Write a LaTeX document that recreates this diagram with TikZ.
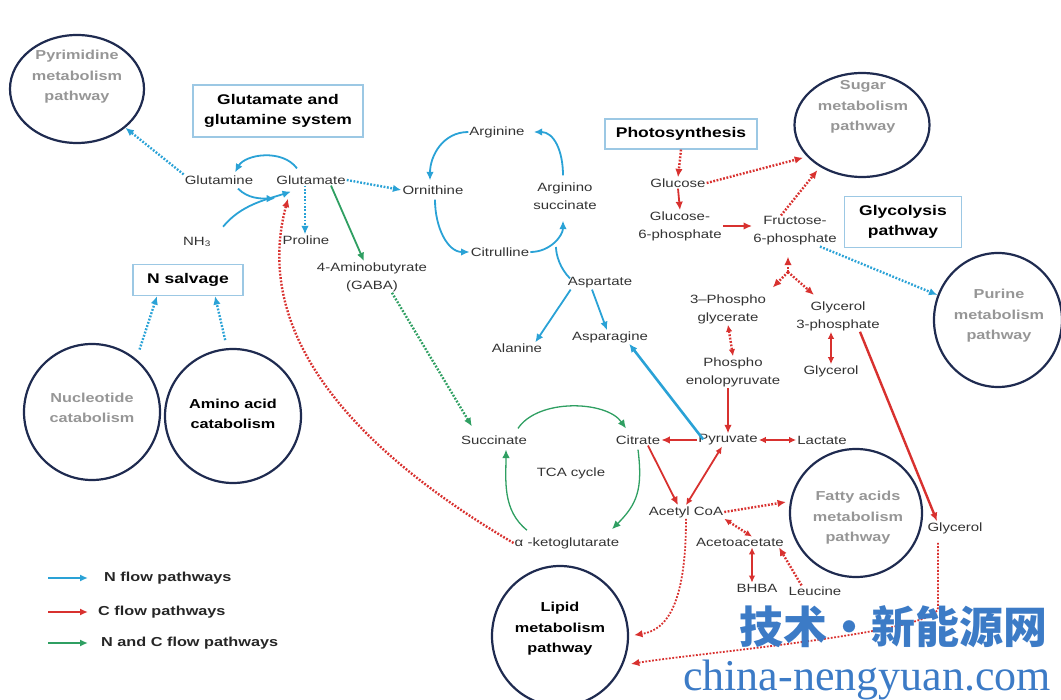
\documentclass[tikz,border=0pt]{standalone}
\usepackage{fontspec}
\setmainfont{Liberation Sans}[FakeStretch=1.25]
\newfontfamily\cjkfont{Noto Sans CJK SC}
\newfontfamily\markfont{Liberation Serif}
\usetikzlibrary{positioning,calc,arrows.meta,shapes.geometric}
\definecolor{Nblue}{HTML}{2AA2D6}
\definecolor{Cred}{HTML}{D8312F}
\definecolor{NCgreen}{HTML}{2F9F62}
\definecolor{circnavy}{HTML}{1F2B50}
\definecolor{boxblue}{HTML}{9CC8E4}
\definecolor{pathgray}{HTML}{969696}
\definecolor{labelgray}{HTML}{333333}
\definecolor{markblue}{HTML}{3C7BC6}

\begin{document}
\begin{tikzpicture}[x=1pt,y=-1pt, every node/.style={font=\fontsize{12}{18}\selectfont,text=labelgray,align=center,inner sep=1pt}, pathcirc/.style={draw=circnavy,line width=2.2pt,ellipse,inner sep=0pt}, pathtxt/.style={font=\bfseries\fontsize{13}{20.5}\selectfont,text=pathgray}, titlebox/.style={draw=boxblue,line width=1.2pt,font=\bfseries\fontsize{14}{20}\selectfont,text=black}, nflow/.style={draw=Nblue,line width=1.8pt,-{Latex[length=8.5pt,width=7.5pt]}}, cflow/.style={draw=Cred,line width=1.8pt,-{Latex[length=8.5pt,width=7.5pt]}}, ncflow/.style={draw=NCgreen,line width=1.8pt,-{Latex[length=8.5pt,width=7.5pt]}}, both/.style={{Latex[length=7pt,width=6.5pt]}-{Latex[length=7pt,width=6.5pt]}}, dotline/.style={line width=2.4pt,dash pattern=on 1.8pt off 1.6pt}]
\useasboundingbox (0,0) rectangle (1061,700);

\node[pathcirc,minimum width=134pt,minimum height=108pt] (pyrimC) at (77,89) {};
\node[pathtxt] (pyrim) at (77,77) {Pyrimidine\\metabolism\\pathway};
\node[pathcirc,minimum width=135pt,minimum height=104pt] (sugarC) at (862,125) {};
\node[pathtxt] (sugar) at (863,107) {Sugar\\metabolism\\pathway};
\node[pathcirc,minimum width=128pt,minimum height=134pt] (purineC) at (998,320) {};
\node[pathtxt] (purine) at (999,316) {Purine\\metabolism\\pathway};
\node[pathcirc,minimum width=136pt,minimum height=136pt] (nucC) at (92,412) {};
\node[pathtxt] (nuc) at (92,408) {Nucleotide\\catabolism};
\node[pathcirc,minimum width=136pt,minimum height=134pt] (aminoC) at (233,416) {};
\node[pathtxt,text=black] (amino) at (233,414) {Amino acid\\catabolism};
\node[pathcirc,minimum width=136pt,minimum height=140pt] (lipidC) at (560,636) {};
\node[pathtxt,text=black] (lipid) at (560,629) {Lipid\\metabolism\\pathway};
\node[pathcirc,minimum width=132pt,minimum height=128pt] (fattyC) at (856,513) {};
\node[pathtxt] (fatty) at (858,518) {Fatty acids\\metabolism\\pathway};

\node[titlebox,minimum width=170pt,minimum height=52pt] (glubox) at (278,111) {Glutamate and\\glutamine system};
\node[titlebox,minimum width=110pt,minimum height=31pt] (nsalv) at (188,280) {N salvage};
\node[titlebox,minimum width=152pt,minimum height=30pt] (photo) at (681,134) {Photosynthesis};
\node[titlebox,minimum width=117pt,minimum height=51pt] (glyco) at (903,222) {Glycolysis\\pathway};

\node (glutamine) at (219,180) {Glutamine};
\node (glutamate) at (311,180) {Glutamate};
\node (nh3) at (197,242) {NH\textsubscript{3}};
\node (proline) at (306,240) {Proline};
\node (gaba) at (372,277) {4-Aminobutyrate\\(GABA)};
\node (ornithine) at (433,190) {Ornithine};
\node (arginine) at (497,132) {Arginine};
\node (arginino) at (565,196) {Arginino\\succinate};
\node (citrulline) at (500,252) {Citrulline};
\node (aspartate) at (600,283) {Aspartate};
\node (alanine) at (517,348) {Alanine};
\node (asparagine) at (610,337) {Asparagine};
\node (glucose) at (678,183) {Glucose};
\node (g6p) at (680,226) {Glucose-\\6-phosphate};
\node (fructose) at (795,231) {Fructose-\\6-phosphate};
\node (pg3) at (728,309) {3–Phospho\\glycerate};
\node (g3p) at (838,316) {Glycerol\\3-phosphate};
\node (pep) at (733,372) {Phospho\\enolopyruvate};
\node (gly1) at (831,371) {Glycerol};
\node (succinate) at (494,440) {Succinate};
\node (citrate) at (638,440) {Citrate};
\node (pyruvate) at (728,440) {Pyruvate};
\node (lactate) at (822,440) {Lactate};
\node (tca) at (571,473) {TCA cycle};
\node (aketo) at (567,543) {α -ketoglutarate};
\node (acetyl) at (686,512) {Acetyl CoA};
\node (acetoacetate) at (740,542) {Acetoacetate};
\node (bhba) at (757,588) {BHBA};
\node (leucine) at (815,591) {Leucine};
\node (gly2) at (955,528) {Glycerol};
\coordinate (citjoin) at (556,247);
\coordinate (fjoin) at (788,272);

\draw[nflow,dotline] (glutamine.north west) -- (pyrimC);
\draw[nflow] ([xshift=-14pt,yshift=6pt]glutamate.north) .. controls +(-15,-20) and +(10,-18) .. ([xshift=16pt,yshift=2pt]glutamine.north);
\draw[nflow] ([xshift=19pt,yshift=-3pt]glutamine.south) .. controls +(10,10) and +(-15,0) .. ([yshift=-13pt]glutamate.south west);
\draw[nflow] ([xshift=11pt,yshift=9pt]nh3.north east) .. controls +(18,-22) and +(-25,8) .. ([xshift=-20pt,yshift=-6pt]glutamate.south);
\draw[nflow,dotline] ([xshift=-6pt]glutamate.south) -- ([xshift=-1pt]proline.north);
\draw[nflow,dotline] (glutamate.east) -- (ornithine.west);
\draw[nflow] ([xshift=2pt,yshift=-4pt]ornithine.south) .. controls +(0,28) and +(-22,0) .. (citrulline.west);
\draw[nflow] (arginine.west) .. controls +(-25,0) and +(0,-25) .. ([xshift=-3pt,yshift=4pt]ornithine.north);
\draw[nflow] ([xshift=-2pt,yshift=6pt]arginino.north) .. controls +(0,-25) and +(20,0) .. ([xshift=8pt]arginine.east);
\draw[nflow] (citrulline.east) .. controls +(20,0) and +(0,15) .. ([xshift=-2pt,yshift=-10pt]arginino.south);
\draw[Nblue,line width=1.8pt] ([xshift=-30pt,yshift=-2pt]aspartate.north) .. controls +(-10,-10) and +(0,8) .. (citjoin);
\draw[nflow] ([xshift=4pt]aspartate.south west) -- ([xshift=-8pt]alanine.north east);
\draw[nflow] ([xshift=-8pt]aspartate.south) -- ([xshift=-3pt]asparagine.north);
\draw[nflow,line width=2.6pt] ([xshift=6pt,yshift=-6pt]pyruvate.north west) -- ([xshift=-20pt]asparagine.south east);
\draw[nflow,dotline] ([xshift=25pt]fructose.south) -- (purineC);
\draw[nflow,dotline,shorten <=10pt] (nucC.50) -- ([xshift=-31pt]nsalv.south);
\draw[nflow,dotline,shorten <=8pt] ([xshift=-6pt]aminoC.north) -- ([xshift=27pt]nsalv.south);

\draw[cflow,dotline] (photo.south) -- (glucose.north);
\draw[cflow] (glucose.south) -- (g6p.north);
\draw[cflow,dotline,shorten >=4pt] (glucose.east) -- (sugarC.210);
\draw[cflow,dotline,shorten >=4pt] ([xshift=-14pt]fructose.north) -- (sugarC.225);
\draw[cflow] (g6p.east) -- (g6p.east -| fructose.west);
\draw[cflow,dotline,shorten >=10pt] (fjoin) -- (fjoin |- fructose.south);
\draw[cflow,dotline,shorten >=8pt] (fjoin) -- (pg3.north east);
\draw[cflow,dotline,shorten >=8pt] (fjoin) -- ([xshift=-18pt]g3p.north);
\draw[cflow,dotline,both] (pg3.south) -- (pep.north);
\draw[cflow,both] (gly1.north |- g3p.south) -- (gly1.north);
\draw[cflow] (pyruvate.north |- pep.south) -- (pyruvate.north);
\draw[cflow,line width=2.6pt] (pyruvate.west) -- (citrate.east);
\draw[cflow,both] (pyruvate.east) -- (lactate.west);
\draw[cflow] ([xshift=10pt]citrate.south) -- ([xshift=-8pt]acetyl.north);
\draw[cflow,both] ([xshift=-6pt]pyruvate.south) -- (acetyl.north);
\draw[cflow,line width=2.4pt] ([xshift=22pt]g3p.south) -- ([xshift=-18pt]gly2.north);
\draw[cflow,dotline,shorten >=4pt] (acetyl.east) -- (fattyC.170);
\draw[cflow,dotline,both] (acetyl.south east) -- ([xshift=12pt]acetoacetate.north);
\draw[cflow,both] ([xshift=12pt]acetoacetate.south) -- ([xshift=-5pt]bhba.north);
\draw[cflow,dotline] ([xshift=14pt]leucine.north west) -- ([xshift=-6pt]acetoacetate.south east);
\draw[cflow,dotline,line width=1.8pt,shorten >=5pt] (acetyl.south) .. controls +(0,100) and +(30,-5) .. (lipidC.east);
\draw[cflow,dotline,line width=1.8pt,shorten >=8pt] ([xshift=-17pt,yshift=-8pt]gly2.south) -- ++(0,65) .. controls +(0,25) and +(70,-12) .. (lipidC.-25);
\draw[cflow,dotline] (aketo.west) .. controls +(-170,-100) and +(-35,130) .. ([xshift=-23pt,yshift=-13pt]glutamate.south);

\draw[ncflow] ([xshift=20pt]glutamate.south) -- ([xshift=-8pt]gaba.north);
\draw[ncflow,dotline] ([xshift=20pt]gaba.south) -- ([xshift=12pt,yshift=8pt]succinate.north west);
\draw[ncflow,line width=1.3pt] ([xshift=24pt,yshift=6pt]succinate.north) .. controls +(20,-30) and +(-20,-28) .. ([xshift=-12pt,yshift=6pt]citrate.north);
\draw[ncflow,line width=1.3pt] ([yshift=-4pt]citrate.south) .. controls +(5,40) and +(25,-25) .. ([xshift=45pt,yshift=7pt]aketo.north);
\draw[ncflow,line width=1.3pt] ([xshift=-40pt,yshift=6pt]aketo.north) .. controls +(-25,-20) and +(0,30) .. ([xshift=12pt,yshift=-4pt]succinate.south);

\foreach \y/\c/\t/\xs in {578/Nblue/N flow pathways/103, 612/Cred/C flow pathways/97, 643/NCgreen/N and C flow pathways/100}{
  \coordinate (la\y) at (48,\y);
  \coordinate (lb\y) at (88,\y);
  \draw[\c,line width=2pt,-{Latex[length=8pt,width=7pt]}] (la\y) -- (lb\y);
  \node[anchor=west,font=\bfseries\fontsize{13}{16}\selectfont,text=black!85] (leg\y) at (\xs,\y) {\t};
}

\node[text=markblue,font=\cjkfont\bfseries\fontsize{44}{44}\selectfont] (markcn) at (893,627) {技术・新能源网};
\node[text=markblue,font=\markfont\fontsize{44}{44}\selectfont] (markurl) at (867,680) {china-nengyuan.com};
\end{tikzpicture}
\end{document}
